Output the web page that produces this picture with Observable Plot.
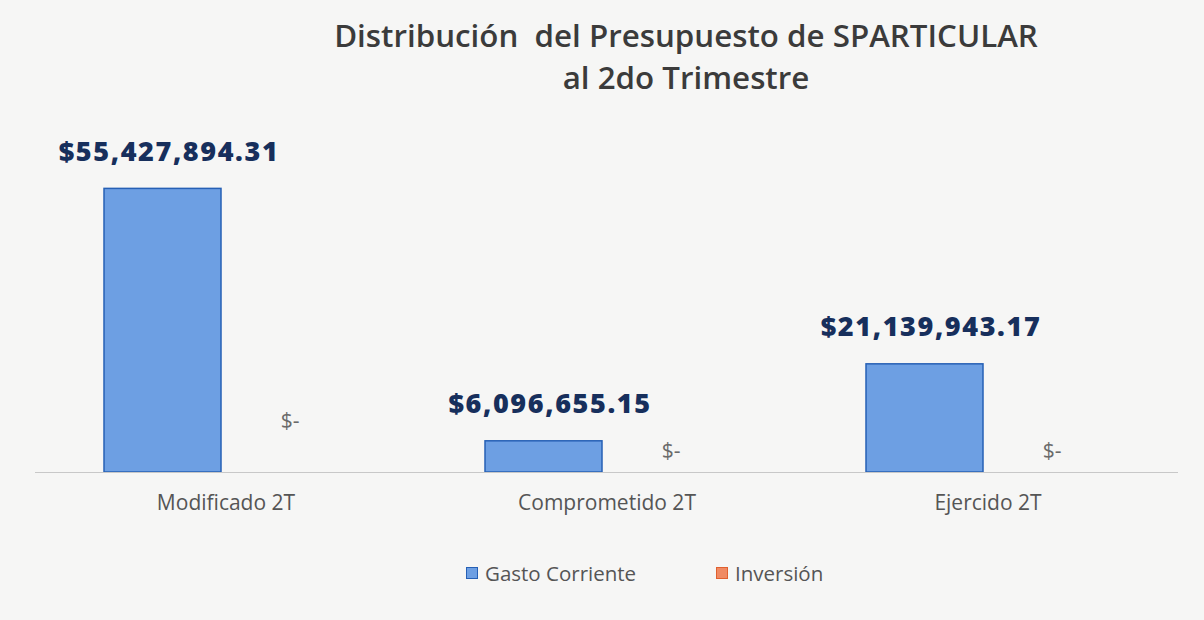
<!DOCTYPE html>
<html>
<head>
<meta charset="utf-8">
<script src="https://cdn.jsdelivr.net/npm/d3@7"></script>
<script src="https://cdn.jsdelivr.net/npm/@observablehq/plot@0.6"></script>
<style>
  html, body { margin: 0; padding: 0; background: #f6f6f5; }
  body { width: 1204px; height: 620px; position: relative; overflow: hidden; font-family: "Open Sans", sans-serif; }
  #title { position: absolute; left: 286px; width: 800px; top: 14px; text-align: center; font-family: "Open Sans", sans-serif; font-weight: 600; font-size: 31.3px; line-height: 42px; color: #3b3b3b; }
  #chart { position: absolute; left: 0; top: 110px; }
  #legend { position: absolute; top: 559px; left: 466px; font-family: "Open Sans", sans-serif; font-size: 20.5px; color: #555; }
  .item { display: flex; align-items: center; position: absolute; white-space: nowrap; }
  .sw { width: 10px; height: 10px; border: 1.5px solid; margin-right: 7px; }
</style>
</head>
<body>
<div id="title">Distribución&nbsp; del Presupuesto de SPARTICULAR<br>al 2do Trimestre</div>
<div id="chart"></div>
<div id="legend"></div>
<script>
const categories = ["Modificado 2T", "Comprometido 2T", "Ejercido 2T"];
const series = ["Gasto Corriente", "Inversión"];
const gastoCorriente = [55427894.31, 6096655.15, 21139943.17];
const inversion = [0, 0, 0];
const seriesFill = ["#6d9fe3", "#f08a63"];
const seriesStroke = ["#2660b5", "#e0602f"];

const data = [];
categories.forEach((c, i) => {
  data.push({cat: c, serie: series[0], value: gastoCorriente[i], idx: i});
  data.push({cat: c, serie: series[1], value: inversion[i], idx: i});
});

const fmt = v => v === 0 ? "$-" : "$" + d3.format(",.2f")(v);

const plot = Plot.plot({
  width: 1204,
  height: 420,
  marginLeft: 35,
  marginRight: 26,
  marginTop: 55,
  marginBottom: 58,
  style: {background: "transparent", overflow: "visible"},
  fx: {domain: categories, padding: 0, label: null},
  x: {domain: series, paddingInner: 0.071, paddingOuter: 0.547, axis: null},
  y: {domain: [0, 60e6], axis: null},
  color: {domain: series, range: seriesFill},
  marks: [
    Plot.barY(data, {fx: "cat", x: "serie", y: "value", fill: "serie", stroke: d => seriesStroke[series.indexOf(d.serie)], strokeWidth: 1.5}),
    Plot.ruleY([0], {stroke: "#c8c8c8", strokeWidth: 1.2}),
    Plot.text(data.filter(d => d.value > 0), {fx: "cat", x: "serie", y: "value", text: d => fmt(d.value), dy: -37, dx: 6, fill: "#172f5c", fontSize: 27, fontWeight: 800, fontFamily: "'Open Sans', sans-serif"}),
    Plot.text(data.filter(d => d.value === 0 && d.idx === 0), {fx: "cat", x: "serie", y: "value", text: d => fmt(d.value), dy: -51, dx: 1, fill: "#6a6a6a", fontSize: 21, fontFamily: "'Open Sans', sans-serif"}),
    Plot.text(data.filter(d => d.value === 0 && d.idx > 0), {fx: "cat", x: "serie", y: "value", text: d => fmt(d.value), dy: -21, dx: 1, fill: "#6a6a6a", fontSize: 21, fontFamily: "'Open Sans', sans-serif"}),
    Plot.axisFx({anchor: "bottom", tickSize: 0, tickPadding: 23, fontSize: 21, fill: "#555", fontFamily: "'Open Sans', sans-serif", label: null})
  ]
});
// widen the value labels' tracking
d3.select(plot).selectAll("text").filter(function() { return this.getAttribute("fill") === "#172f5c" || (this.parentNode && this.parentNode.getAttribute("fill") === "#172f5c"); }).style("letter-spacing", "1.6px");
document.getElementById("chart").appendChild(plot);

const legend = document.getElementById("legend");
const offsets = [0, 250];
series.forEach((s, i) => {
  const it = document.createElement("div");
  it.className = "item";
  it.style.left = offsets[i] + "px";
  const sw = document.createElement("span");
  sw.className = "sw";
  sw.style.background = seriesFill[i];
  sw.style.borderColor = seriesStroke[i];
  it.appendChild(sw);
  it.appendChild(document.createTextNode(s));
  legend.appendChild(it);
});
</script>
</body>
</html>
